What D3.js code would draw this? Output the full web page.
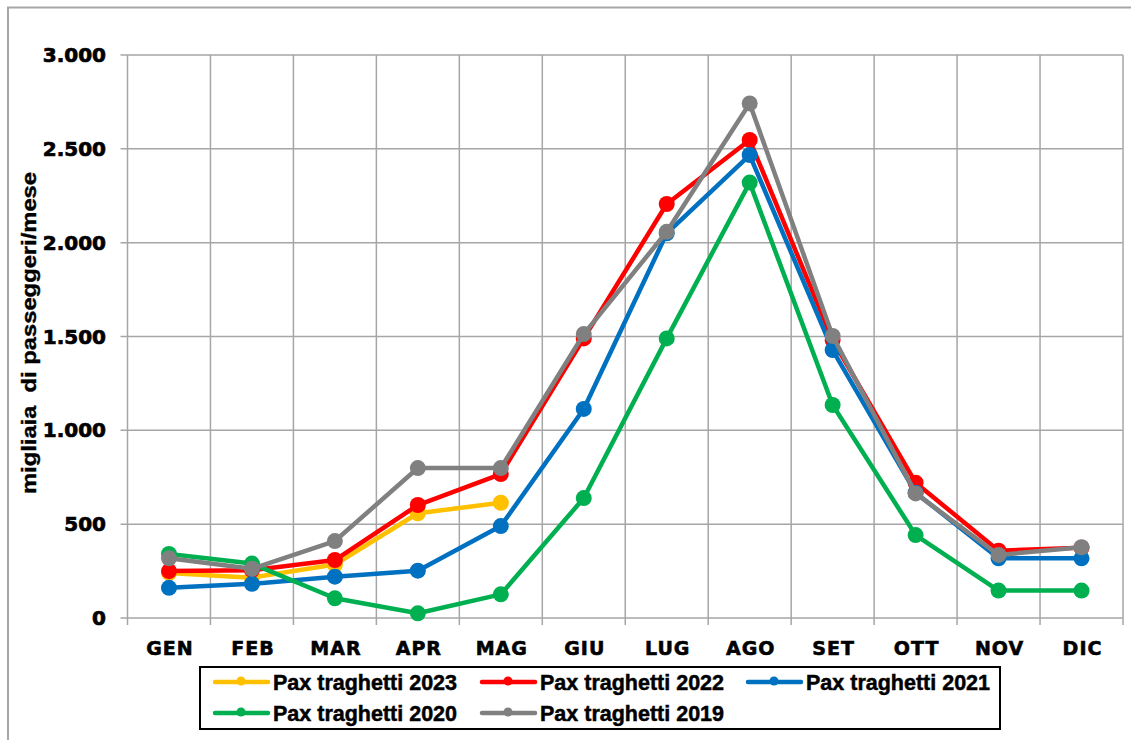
<!DOCTYPE html>
<html><head><meta charset="utf-8">
<script src="https://cdn.jsdelivr.net/npm/d3@7"></script>
<style>
html,body{margin:0;padding:0;background:#fff;}
svg{display:block;}
</style></head>
<body>
<svg id="chart" width="1131" height="740"></svg>
<script>
const months = ["GEN","FEB","MAR","APR","MAG","GIU","LUG","AGO","SET","OTT","NOV","DIC"];
const pax2023 = [240, 215, 285, 558, 614];
const pax2022 = [250, 255, 309, 602, 767, 1490, 2206, 2547, 1481, 721, 359, 375];
const pax2021 = [161, 182, 220, 252, 490, 1114, 2050, 2467, 1428, 668, 318, 318];
const pax2020 = [341, 290, 105, 25, 126, 639, 1490, 2320, 1135, 442, 146, 146];
const pax2019 = [318, 262, 410, 799, 799, 1513, 2058, 2742, 1503, 664, 336, 377];
const yTicks = [0, 500, 1000, 1500, 2000, 2500, 3000];
const yTickLabels = ["0","500","1.000","1.500","2.000","2.500","3.000"];
const seriesNames = ["Pax traghetti 2023","Pax traghetti 2022","Pax traghetti 2021","Pax traghetti 2020","Pax traghetti 2019"];
const seriesColors = ["#FFC000","#FF0000","#0070C0","#00B050","#808080"];
const seriesData = [pax2023, pax2022, pax2021, pax2020, pax2019];

const svg = d3.select("#chart");
const L = 127.5, R = 1123, T = 55, B = 618;
const gridColor = "#a6a6a6";

// outer chart border
svg.append("path").attr("d", `M8,745 L8,7.5 L1140,7.5`).attr("fill","none")
  .attr("stroke","#a6a6a6").attr("stroke-width",2);

const x = d3.scaleBand().domain(months).range([L, R]);
const y = d3.scaleLinear().domain([0, 3000]).range([B, T]);

// horizontal gridlines + y ticks
svg.append("g").selectAll("line").data(yTicks).join("line")
  .attr("x1", L - 7).attr("x2", R)
  .attr("y1", d => y(d)).attr("y2", d => y(d))
  .attr("stroke", gridColor).attr("stroke-width", 1.5);
// vertical gridlines at category boundaries (extend below as tick marks)
const bounds = months.map(m => x(m)).concat([R]);
svg.append("g").selectAll("line").data(bounds).join("line")
  .attr("x1", d => d).attr("x2", d => d)
  .attr("y1", T).attr("y2", B + 7)
  .attr("stroke", gridColor).attr("stroke-width", 1.5);

// y tick labels
svg.append("g").selectAll("text").data(yTicks).join("text")
  .attr("x", 106).attr("y", d => y(d) + 7)
  .attr("text-anchor","end")
  .attr("font-family","DejaVu Sans, Verdana, sans-serif").attr("font-weight","bold")
  .attr("font-size", 20).attr("fill","#000").attr("stroke","#000").attr("stroke-width",0.7)
  .text((d,i) => yTickLabels[i]);

// x labels
svg.append("g").selectAll("text").data(months).join("text")
  .attr("x", d => x(d) + x.bandwidth()/2 + 1).attr("y", 655)
  .attr("text-anchor","middle")
  .attr("font-family","DejaVu Sans, Verdana, sans-serif").attr("font-weight","bold")
  .attr("font-size", 19).attr("letter-spacing", 1).attr("fill","#000")
  .attr("stroke","#000").attr("stroke-width",0.6)
  .text(d => d);

// y title
svg.append("text")
  .attr("transform", `translate(36,333) rotate(-90)`)
  .attr("text-anchor","middle")
  .attr("font-family","Liberation Sans, Arial, sans-serif")
  .attr("font-weight","bold").attr("font-size", 21).attr("fill","#000")
  .attr("stroke","#000").attr("stroke-width",0.4)
  .attr("textLength", 322).attr("lengthAdjust","spacingAndGlyphs")
  .style("white-space","pre")
  .text("migliaia  di passeggeri/mese");

// series
const line = d3.line().x((d,i) => x(months[i]) + x.bandwidth()/2).y(d => y(d));
seriesData.forEach((data, si) => {
  const g = svg.append("g");
  g.append("path").attr("d", line(data)).attr("fill","none")
    .attr("stroke", seriesColors[si]).attr("stroke-width", 4.5).attr("stroke-linejoin","round");
  g.selectAll("circle").data(data).join("circle")
    .attr("cx", (d,i) => x(months[i]) + x.bandwidth()/2).attr("cy", d => y(d))
    .attr("r", 8).attr("fill", seriesColors[si]);
});

// legend
svg.append("rect").attr("x", 200).attr("y", 667).attr("width", 800).attr("height", 62)
  .attr("fill","#fff").attr("stroke","#000").attr("stroke-width", 2);
const legPos = [[215,682],[482,682],[748,682],[215,713],[482,713]];
seriesNames.forEach((name, i) => {
  const [lx, ly] = legPos[i];
  const g = svg.append("g");
  g.append("line").attr("x1", lx).attr("x2", lx + 53).attr("y1", ly).attr("y2", ly)
    .attr("stroke", seriesColors[i]).attr("stroke-width", 4.5).attr("stroke-linecap","round");
  g.append("circle").attr("cx", lx + 26).attr("cy", ly - 1).attr("r", 4.5).attr("fill", seriesColors[i]);
  g.append("text").attr("x", lx + 58).attr("y", ly + 7.5)
    .attr("font-family","Liberation Sans, Arial, sans-serif")
    .attr("font-weight","bold").attr("font-size", 21.5).attr("fill","#000")
    .attr("stroke","#000").attr("stroke-width",0.5)
    .text(name);
});
</script>
</body></html>
